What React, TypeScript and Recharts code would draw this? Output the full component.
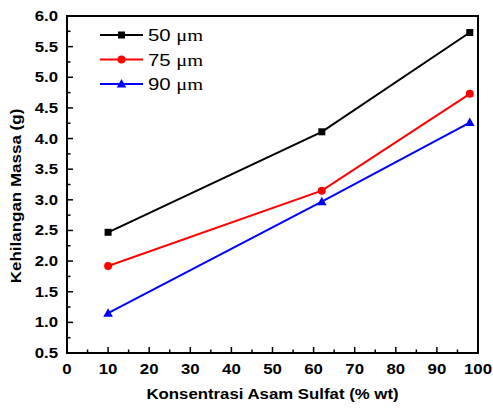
import { LineChart, Line, XAxis, YAxis, ReferenceArea, Legend } from 'recharts';

// Konsentrasi asam sulfat (% wt) dan kehilangan massa (g)
const concentrations = [10, 62, 98];
const loss50 = [2.47, 4.11, 5.73];
const loss75 = [1.92, 3.15, 4.73];
const loss90 = [1.15, 2.97, 4.26];

const seriesNames = ['50', '75', '90'];
const seriesColors = ['#000000', '#ff0000', '#0000ff'];
const seriesShapes = ['square', 'circle', 'triangle'];

const xMajor = [0, 10, 20, 30, 40, 50, 60, 70, 80, 90, 100];
const xMinor = [5, 15, 25, 35, 45, 55, 65, 75, 85, 95];
const yMajor = [0.5, 1.0, 1.5, 2.0, 2.5, 3.0, 3.5, 4.0, 4.5, 5.0, 5.5, 6.0];
const yMinor = [0.75, 1.25, 1.75, 2.25, 2.75, 3.25, 3.75, 4.25, 4.75, 5.25, 5.75];

const data = concentrations.map((x, i) => ({
  x,
  s50: loss50[i],
  s75: loss75[i],
  s90: loss90[i],
}));

const FONT = '"Liberation Sans", Arial, sans-serif';
// the original figure is stretched a bit horizontally
const STRETCH = 1.2;

const marker = (shape: string, color: string, cx: number, cy: number) => {
  if (shape === 'square') {
    return <rect x={cx - 3.5} y={cy - 3.5} width={7} height={7} fill={color} />;
  }
  if (shape === 'circle') {
    return <circle cx={cx} cy={cy} r={4} fill={color} />;
  }
  return (
    <polygon
      points={`${cx},${cy - 5} ${cx + 4.8},${cy + 3.5} ${cx - 4.8},${cy + 3.5}`}
      fill={color}
    />
  );
};

const makeDot = (idx: number) => (props: any) => {
  const { cx, cy, index } = props;
  return <g key={`d${idx}-${index}`}>{marker(seriesShapes[idx], seriesColors[idx], cx, cy)}</g>;
};

const WideText = ({ x, y, anchor, size, bold, sx = STRETCH, rotate, children }: any) => (
  <text
    transform={`translate(${x},${y}) scale(${sx},1)${rotate ? ` rotate(${rotate})` : ''}`}
    textAnchor={anchor}
    fontFamily={FONT}
    fontWeight={bold ? 'bold' : 'normal'}
    fontSize={size}
    fill="#000"
  >
    {children}
  </text>
);

const XTick = ({ x, y, payload }: any) => {
  const major = xMajor.includes(payload.value);
  const axisY = y - 8;
  return (
    <g>
      <line x1={x} x2={x} y1={axisY} y2={axisY - (major ? 6 : 3.5)} stroke="#000" strokeWidth={1.5} />
      {major && (
        <WideText x={x} y={axisY + 21} anchor="middle" size={14} bold>
          {payload.value}
        </WideText>
      )}
    </g>
  );
};

const YTick = ({ x, y, payload }: any) => {
  const major = yMajor.some((v) => Math.abs(v - payload.value) < 1e-6);
  const axisX = x + 8;
  return (
    <g>
      <line x1={axisX} x2={axisX + (major ? 6 : 3.5)} y1={y} y2={y} stroke="#000" strokeWidth={1.5} />
      {major && (
        <WideText x={axisX - 9} y={y + 5} anchor="end" size={14} bold>
          {payload.value.toFixed(1)}
        </WideText>
      )}
    </g>
  );
};

const XTitle = ({ viewBox }: any) => (
  <WideText x={viewBox.x + viewBox.width / 2} y={viewBox.y + viewBox.height - 13} anchor="middle" size={14} bold>
    Konsentrasi Asam Sulfat (% wt)
  </WideText>
);

const YTitle = () => (
  <WideText x={21} y={196} anchor="middle" size={17} sx={0.88} bold rotate={-90}>
    Kehilangan Massa (g)
  </WideText>
);

const LegendBox = () => (
  <svg width={150} height={70}>
    {seriesNames.map((name, i) => {
      const cy = 11 + i * 24.5;
      return (
        <g key={name}>
          <line x1={4} x2={47} y1={cy} y2={cy} stroke={seriesColors[i]} strokeWidth={2} />
          {marker(seriesShapes[i], seriesColors[i], 25.5, cy)}
          <text transform={`translate(52,${cy + 6}) scale(${STRETCH},1)`} fontFamily={FONT} fontSize={17} fill="#000">
            {name + ' '}
            <tspan fontFamily='"Liberation Serif", "Times New Roman", serif'>μm</tspan>
          </text>
        </g>
      );
    })}
  </svg>
);

export default function App() {
  return (
    <div style={{ position: 'absolute', left: 0, top: 0, width: 493, height: 412, background: '#fff' }}>
      <LineChart width={493} height={412} data={data} margin={{ top: 16, right: 15, bottom: 0, left: 0 }}>
        <XAxis
          type="number"
          dataKey="x"
          domain={[0, 100]}
          ticks={[...xMajor, ...xMinor].sort((a, b) => a - b)}
          interval={0}
          tickSize={0}
          tickMargin={8}
          tickLine={false}
          axisLine={false}
          tick={<XTick />}
          height={59}
          label={<XTitle />}
        />
        <YAxis
          type="number"
          domain={[0.5, 6]}
          ticks={[...yMajor, ...yMinor].sort((a, b) => a - b)}
          interval={0}
          tickSize={0}
          tickMargin={8}
          tickLine={false}
          axisLine={false}
          tick={<YTick />}
          width={67}
          label={<YTitle />}
        />
        <ReferenceArea x1={0} x2={100} y1={0.5} y2={6} fill="none" stroke="#000" strokeWidth={2} ifOverflow="visible" />
        <Legend
          layout="vertical"
          align="center"
          verticalAlign="middle"
          content={<LegendBox />}
          wrapperStyle={{ position: 'absolute', left: 96, top: 24, width: 150, height: 70 }}
        />
        <Line dataKey="s50" stroke={seriesColors[0]} strokeWidth={2} dot={makeDot(0)} isAnimationActive={false} />
        <Line dataKey="s75" stroke={seriesColors[1]} strokeWidth={2} dot={makeDot(1)} isAnimationActive={false} />
        <Line dataKey="s90" stroke={seriesColors[2]} strokeWidth={2} dot={makeDot(2)} isAnimationActive={false} />
      </LineChart>
    </div>
  );
}
